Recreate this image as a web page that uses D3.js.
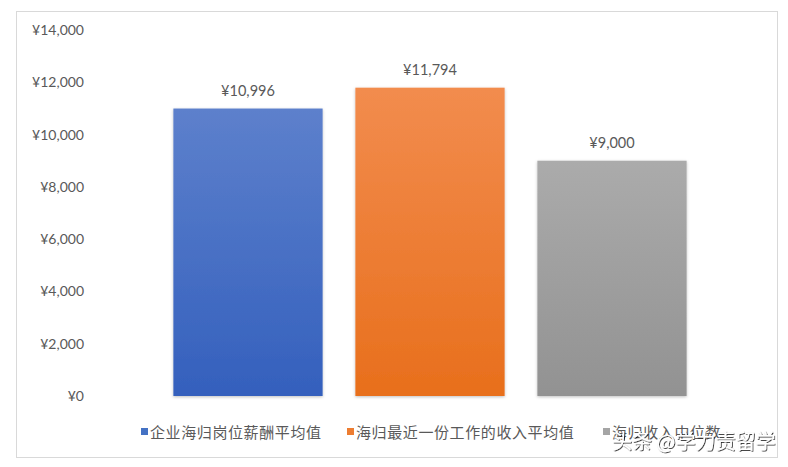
<!DOCTYPE html>
<html><head><meta charset="utf-8">
<script src="https://cdn.jsdelivr.net/npm/d3@7"></script>
<style>
html,body{margin:0;padding:0;background:#fff;}
svg{display:block;font-family:"Noto Sans CJK SC","Noto Sans",sans-serif;}
</style></head>
<body>
<svg id="c" width="788" height="467"></svg>
<script>
const series = ["企业海归岗位薪酬平均值", "海归最近一份工作的收入平均值", "海归收入中位数"];
const values = [10996, 11794, 9000];
const yTicks = [0, 2000, 4000, 6000, 8000, 10000, 12000, 14000];
const colorsTop = ["#5d80cc", "#f28c4e", "#ababab"];
const colorsBot = ["#3460bd", "#e86f1c", "#929292"];
const legendColors = ["#4472c4", "#ed7d31", "#a5a5a5"];

const svg = d3.select("#c");
const fmt = v => "¥" + d3.format(",")(v);

// frame
svg.append("rect").attr("x", 16.5).attr("y", 11.5).attr("width", 761).attr("height", 446)
  .attr("fill", "#fff").attr("stroke", "#d9d9d9").attr("stroke-width", 1);

const y = d3.scaleLinear().domain([0, 14000]).range([396, 30]);
const x = d3.scaleBand().domain(series).range([157, 703]).paddingInner(0.18).paddingOuter(0.09);

const defs = svg.append("defs");
series.forEach((s, i) => {
  const g = defs.append("linearGradient").attr("id", "g" + i).attr("x1", 0).attr("y1", 0).attr("x2", 0).attr("y2", 1);
  g.append("stop").attr("offset", "0%").attr("stop-color", colorsTop[i]);
  g.append("stop").attr("offset", "100%").attr("stop-color", colorsBot[i]);
});
const f = defs.append("filter").attr("id", "sh").attr("x", "-10%").attr("y", "-10%").attr("width", "120%").attr("height", "120%");
f.append("feDropShadow").attr("dx", 0).attr("dy", 1).attr("stdDeviation", 1.5).attr("flood-color", "#000").attr("flood-opacity", 0.25);
const f2 = defs.append("filter").attr("id", "wm").attr("x", "-10%").attr("y", "-30%").attr("width", "120%").attr("height", "160%");
f2.append("feDropShadow").attr("dx", 0.8).attr("dy", 0.8).attr("stdDeviation", 0.7).attr("flood-color", "#000").attr("flood-opacity", 0.9);

// y axis
const yAxis = d3.axisLeft(y).tickValues(yTicks).tickFormat(fmt).tickSize(0).tickPadding(0);
const ga = svg.append("g").attr("transform", "translate(84,0)").call(yAxis);
ga.select(".domain").remove();
ga.selectAll("text").attr("fill", "#595959").style("font-size", "14px")
  .style("font-family", "Lato,'Noto Sans',sans-serif");

// bars
svg.selectAll(".bar").data(values).enter().append("rect")
  .attr("x", (d, i) => x(series[i])).attr("width", x.bandwidth())
  .attr("y", d => y(d)).attr("height", d => y(0) - y(d))
  .attr("fill", (d, i) => `url(#g${i})`).attr("filter", "url(#sh)");

// labels
svg.selectAll(".lbl").data(values).enter().append("text")
  .attr("x", (d, i) => x(series[i]) + x.bandwidth() / 2).attr("y", d => y(d) - 13)
  .attr("text-anchor", "middle").attr("fill", "#595959").style("font-size", "14.5px")
  .style("font-family", "Lato,'Noto Sans',sans-serif")
  .text(fmt);

// legend
const legX = [141, 347, 603];
const lg = svg.append("g");
series.forEach((s, i) => {
  lg.append("rect").attr("x", legX[i]).attr("y", 428).attr("width", 7).attr("height", 7).attr("fill", legendColors[i]);
  lg.append("text").attr("x", legX[i] + 9).attr("y", 438).attr("fill", "#595959")
    .style("font-size", "15px").style("letter-spacing", "0.6px").text(s);
});

// watermark (overlaps the legend in the original image)
svg.append("text").attr("x", 612).attr("y", 449).attr("fill", "#fff")
  .attr("filter", "url(#wm)")
  .style("font-size", "20px").text("头条 @学力责留学");
</script>
</body></html>
